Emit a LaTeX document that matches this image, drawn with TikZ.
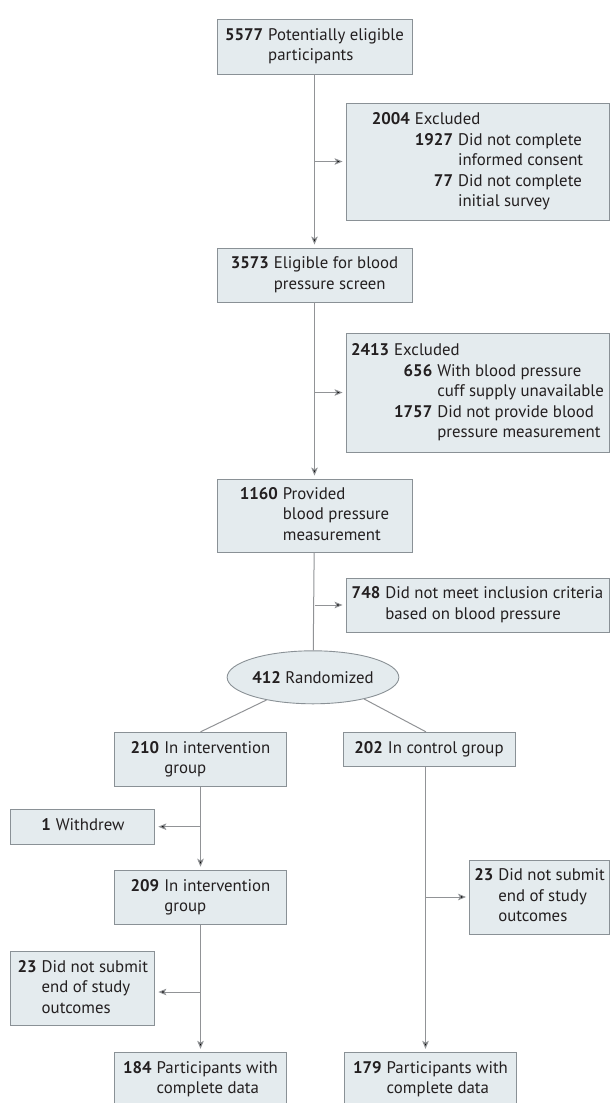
\documentclass[tikz,border=0pt]{standalone}
\usepackage{fontspec}
\setmainfont{PT Sans}
\usetikzlibrary{calc, positioning, shapes, arrows.meta, backgrounds}
\definecolor{boxfill}{RGB}{228,235,238}
\definecolor{boxline}{RGB}{138,145,150}
\definecolor{flowline}{RGB}{145,147,150}
\definecolor{txt}{RGB}{35,31,32}
\def\colsep{5pt}
\newcommand{\cnt}[1]{\textbf{#1}}
\newenvironment{entry}[1][c]{\begin{tabular}[#1]{@{}r@{\hspace{\colsep}}l@{}}}{\end{tabular}}
\tikzstyle{box}=[rectangle, draw=boxline, fill=boxfill, line width=0.9pt, inner sep=0pt, text=txt, font=\fontsize{16.8}{20.5}\selectfont]
\tikzstyle{main box}=[box, minimum width=195pt]
\tikzstyle{excl box}=[box, minimum width=263pt]
\tikzstyle{arm box}=[box, minimum width=172pt]
\tikzstyle{side box}=[box, minimum width=144pt]
\tikzstyle{flow}=[draw=flowline, line width=1pt]

\begin{document}
\begin{tikzpicture}[x=1pt, y=-1pt, >={Stealth[length=8pt,width=6.5pt,inset=1.8pt]}]
	\path[use as bounding box, clip] (0,0) rectangle (610,1103);

	% screening column
	\node[main box, minimum height=55pt] (pot) at (314.5,46.5)
		{\begin{entry}\cnt{5577} & Potentially eligible\\ & participants\end{entry}};
	\node[excl box, minimum height=117pt] (exc1) at (477.5,161.5)
		{\begin{entry}\cnt{2004} & Excluded\\
		 & \begin{entry}[t]\cnt{1927} & Did not complete\\ & informed consent\\
		 \cnt{77} & Did not complete\\ & initial survey\end{entry}\end{entry}};
	\node[main box, minimum height=54pt] (scr) at (314.5,275)
		{\begin{entry}\cnt{3573} & Eligible for blood\\ & pressure screen\end{entry}};
	\node[excl box, minimum height=119pt] (exc2) at (477.5,392.5)
		{\begin{entry}\cnt{2413} & Excluded\\
		 & \begin{entry}[t]\cnt{656} & With blood pressure\\ & cuff supply unavailable\\
		 \cnt{1757} & Did not provide blood\\ & pressure measurement\end{entry}\end{entry}};
	\node[main box, minimum height=73pt] (bp) at (314.5,515.5)
		{\begin{entry}\cnt{1160} & Provided\\ & blood pressure\\ & measurement\end{entry}};
	\node[excl box, minimum height=54pt] (exc3) at (477.5,605)
		{\begin{entry}\cnt{748} & Did not meet inclusion criteria\\ & based on blood pressure\end{entry}};
	\node[ellipse, draw=boxline, fill=boxfill, line width=0.9pt, inner sep=0pt, text=txt,
		font=\fontsize{16.8}{20.5}\selectfont, minimum width=169pt, minimum height=53pt] (rand) at (313,677.3)
		{\cnt{412} Randomized};

	% intervention arm
	\node[arm box, minimum height=54pt] (int) at (200.5,759.3)
		{\begin{entry}\cnt{210} & In intervention\\ & group\end{entry}};
	\node[side box, minimum height=35pt] (wd) at (82.9,826.7)
		{\begin{entry}\cnt{1} & Withdrew\end{entry}};
	\node[arm box, minimum height=54pt] (int2) at (200.5,897.2)
		{\begin{entry}\cnt{209} & In intervention\\ & group\end{entry}};
	\node[side box, minimum height=74pt] (lossI) at (82.9,988.5)
		{\begin{entry}\cnt{23} & Did not submit\\ & end of study\\ & outcomes\end{entry}};
	\node[arm box, minimum height=54pt] (compI) at (200.5,1079.3)
		{\begin{entry}\cnt{184} & Participants with\\ & complete data\end{entry}};

	% control arm
	\node[arm box, minimum height=34.4pt] (ctl) at (429,749.5)
		{\begin{entry}\cnt{202} & In control group\end{entry}};
	\node[box, minimum width=140pt, minimum height=74pt] (lossC) at (539.5,897)
		{\begin{entry}\cnt{23} & Did not submit\\ & end of study\\ & outcomes\end{entry}};
	\node[arm box, minimum height=54pt] (compC) at (430.5,1079.3)
		{\begin{entry}\cnt{179} & Participants with\\ & complete data\end{entry}};

	\coordinate (j1) at (pot.south |- exc1.west);
	\coordinate (j2) at (scr.south |- exc2.west);
	\coordinate (j3) at (bp.south |- exc3.west);
	\coordinate (j4) at (int.south |- wd.east);
	\coordinate (j5) at ($(int2.south |- lossI.east)+(0,3.5)$);
	\coordinate (c1) at ([xshift=-3.5pt]ctl.south);
	\coordinate (c2) at (c1 |- compC.north);
	\coordinate (j6) at (c1 |- lossC.west);

	\path[flow, shorten >=3pt]
		(pot) edge[->] (scr)
		(scr) edge[->] (bp)
		(j1) edge[->] (exc1.west)
		(j2) edge[->] (exc2.west)
		(j3) edge[->] (exc3.west)
		(int) edge[->] (int2)
		(int2) edge[->] (compI)
		(j4) edge[->] (wd.east)
		(j5) edge[->] (lossI.east |- j5)
		(c1) edge[->] (c2)
		(j6) edge[->] (lossC.west);
	\path[flow]
		(bp) edge (rand)
		(rand.-154) edge (int.north)
		(rand.-23) edge ([xshift=-3pt]ctl.north);
\end{tikzpicture}
\end{document}
